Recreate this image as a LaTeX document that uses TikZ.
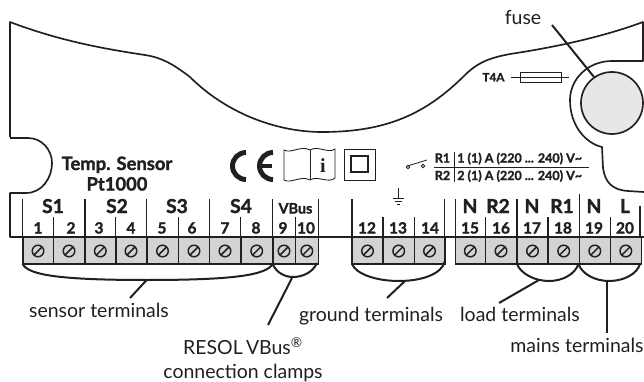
\documentclass[tikz,border=0pt]{standalone}
\usepackage{fontspec}
\setmainfont{Lato}[BoldFeatures={FakeBold=1.6}]
\newfontfamily\serifbold{Liberation Serif}[BoldFont={Liberation Serif Bold}]
\definecolor{cellgray}{HTML}{D1D3D4}
\definecolor{knobgray}{HTML}{E6E7E8}
\definecolor{ink}{HTML}{231F20}
\tikzset{
  outline/.style={draw=ink,line width=1.25pt,line join=round},
  thinline/.style={draw=ink,line width=.55pt},
  divider/.style={draw=ink,line width=1.15pt},
  leader/.style={draw=ink,line width=1.5pt},
  cell/.style={draw=ink,fill=cellgray,line width=1.2pt},
  screw/.style={draw=ink,line width=1.1pt},
  biglabel/.style={font=\fontsize{14.4pt}{16pt}\selectfont\bfseries,text=ink,inner sep=0pt,anchor=base},
  numlabel/.style={font=\fontsize{11.6pt}{13pt}\selectfont\bfseries,text=ink,inner sep=0pt,anchor=base},
  caption/.style={font=\fontsize{14.6pt}{16pt}\selectfont,text=ink,inner sep=0pt,anchor=base},
  smallbold/.style={font=\fontsize{9.4pt}{10pt}\selectfont\bfseries,text=ink,inner sep=0pt,anchor=base},
}
\begin{document}
\begin{tikzpicture}[x=0.75pt,y=-0.75pt]
\useasboundingbox (0,0) rectangle (644,382);
% housing outline
\draw[outline] (10,137) -- (10,22)
  .. controls (60,41) and (105,49) .. (145,55)
  .. controls (165,58) and (178,68) .. (190,77)
  .. controls (225,112) and (275,132) .. (322,132)
  .. controls (385,132) and (425,115) .. (465,75)
  .. controls (480,60) and (495,57) .. (510,54)
  .. controls (550,48) and (600,38) .. (643,22)
  -- (643,61) -- (612,61)
  .. controls (588,61) and (570,79) .. (570,100)
  .. controls (570,125) and (585,143) .. (602,147)
  -- (603,168)
  .. controls (605,182) and (612,190) .. (628,191)
  -- (644,192);
\draw[outline] (10,138) -- (28,138)
  .. controls (42,138) and (52,150) .. (52,163)
  .. controls (52,178) and (42,193) .. (26,193)
  -- (10,193) -- (10,237) -- (644,237);
\draw[outline,fill=knobgray] (612,103) circle[radius=31];
\node[caption] (fuselabel) at (523,25) {fuse};
\coordinate (fusestart) at (552,25);
\coordinate (fuseend) at (594,77);
\draw[leader] (fusestart) -- (fuseend);
% fuse symbol
\node[smallbold,font=\fontsize{8.8pt}{10pt}\selectfont\bfseries] (tfour) at (493.5,81.5) {T4A};
\node[thinline,draw,minimum width=30.8pt,minimum height=8pt,inner sep=0pt] (fusebox) at (540.5,77.5) {};
\coordinate (fuseL) at (511,77.5);
\coordinate (fuseR) at (569,77.5);
\draw[thinline] (fuseL) -- (fuseR);
% text
\node[font=\fontsize{13.8pt}{15pt}\selectfont\bfseries,text=ink,inner sep=0pt,anchor=base] (temp) at (117,170) {Temp. Sensor};
\node[font=\fontsize{13.8pt}{15pt}\selectfont\bfseries,text=ink,inner sep=0pt,anchor=base] (pt) at (117,190.5) {Pt1000};
% CE mark
\draw[ink,line width=3.7pt] (246,152.5) arc[start angle=270,end angle=90,radius=13.5];
\draw[ink,line width=3.7pt] (273,152.5) arc[start angle=270,end angle=90,radius=13.5];
\draw[ink,line width=2.8pt] (259,166) -- (271.5,166);
% book
\draw[thinline,line width=.65pt]
  (284,150) .. controls (291,154) and (301,145) .. (310,150)
  .. controls (318,145) and (328,154) .. (335,149)
  -- (335,178)
  .. controls (328,184) and (318,175) .. (310,180)
  .. controls (301,175) and (291,184) .. (284,180) -- cycle;
\draw[thinline,line width=.65pt] (310,150) -- (310,180);
\node[font=\fontsize{15pt}{16pt}\selectfont\serifbold\bfseries,text=ink,inner sep=0pt,anchor=base] (info) at (323,172) {i};
% class II
\draw[thinline,line width=.75pt] (344,149) rectangle (375,180);
\draw[ink,line width=1.05pt] (351,156) rectangle (368,172);
% switch symbol
\draw[thinline,line width=.6pt] (408,167) circle[radius=1.7];
\draw[thinline,line width=.6pt] (423,166) circle[radius=1.7];
\draw[thinline,line width=.6pt] (409,165.5) -- (427,160);
% rating table
\node[smallbold] (rone) at (442.5,162.5) {R1};
\node[smallbold] (rtwo) at (442.5,180) {R2};
\node[smallbold,anchor=base west] (rateA) at (457,162.5) {1 (1) A (220 ... 240) V\char"007E};
\node[smallbold,anchor=base west] (rateB) at (457,180) {2 (1) A (220 ... 240) V\char"007E};
\draw[thinline,line width=.6pt] (454,152) -- (454,182);
\draw[thinline,line width=.6pt] (434,167) -- (589,167);
% ground symbol
\draw[thinline,line width=.6pt] (398,188) -- (398,198);
\draw[thinline,line width=.6pt] (392.5,198) -- (404,198);
\draw[thinline,line width=.6pt] (394.5,201.5) -- (402,201.5);
\draw[thinline,line width=.6pt] (396.5,204.5) -- (400,204.5);
% terminal cells
\foreach \n/\a/\b in {1/22.7/53.3,2/53.3/85,3/85/115.7,4/115.7/146.7,5/146.7/178.3,6/178.3/209.3,7/209.3/240.7,8/240.7/272.7,9/272.7/295.3,10/295.3/318.3,
  12/352/383,13/383/414.3,14/414.3/444.7,
  15/455.3/485.3,16/485.3/517,17/517/548,18/548/579.3,19/579.3/610.3,20/610.3/641.3}{
  \draw[cell] (\a,237) rectangle (\b,264);
}
% screws
\foreach \x in {38,69,100.3,131,162.5,194,225,256.7,284,306.8,367.5,398.7,429.5,470.3,501,532.5,563.7,594.8,625.8}{
  \draw[screw] (\x,251) circle[radius=5.8];
  \draw[screw] (\x-4.2,255.2) -- (\x+4.2,246.8);
}
% dividers
\foreach \x in {22.7,85,146.7,209.3,272.7,318.3,352,444.7,455.3,517}{
  \draw[divider] (\x,199) -- (\x,237);
}
\draw[divider] (579.3,194) -- (579.3,237);
\draw[divider] (640,206) -- (640,237);
\foreach \x in {53.3,115.7,178.3,240.7,295.3,383,414.3,485.3,548,610.3}{
  \draw[divider] (\x,217) -- (\x,237);
}
% group labels
\foreach \t/\x in {S1/53,S2/117,S3/177,S4/241,N/470,R2/498,N/532,R1/562,N/594,L/625}{
  \node[biglabel] at (\x,213) {\t};
}
\node[font=\fontsize{10.8pt}{12pt}\selectfont\bfseries,text=ink,inner sep=0pt,anchor=base] (vbus) at (295.5,213.5) {VBus};
\foreach \t/\x in {1/38,2/71,3/99,4/131,5/162,6/192,7/225,8/256,9/283,10/306,12/367,13/398,14/430,15/470,16/501,17/532,18/563,19/594,20/625}{
  \node[numlabel] at (\x,233.5) {\t};
}
% braces
\draw[leader] (22.7,264) .. controls (28,275) and (60,280) .. (146.7,280)
  .. controls (235,280) and (266,275) .. (272.7,264);
\draw[leader] (272.7,264) .. controls (276,272) and (284,277) .. (293,277)
  .. controls (303,277) and (313,272) .. (317,263);
\draw[leader] (352,264) .. controls (356,274) and (376,281) .. (399,281)
  .. controls (422,281) and (442,274) .. (445,261);
\draw[leader] (517,264) .. controls (521,274) and (535,281) .. (549,281)
  .. controls (563,281) and (575,274) .. (578.5,264);
\draw[leader] (578.5,264) .. controls (582,274) and (595,281) .. (609,281)
  .. controls (624,281) and (637,274) .. (640,264);
% captions and leaders
\node[caption] (sensor) at (99,317) {sensor terminals};
\coordinate (sensorA) at (146.7,280); \coordinate (sensorB) at (130,298);
\draw[leader] (sensorA) -- (sensorB);
\node[caption] (vbuscap) at (243,354) {RESOL\,VBus\textsuperscript{®}};
\node[caption] (clamps) at (243,378) {connection clamps};
\coordinate (vbusA) at (292,278); \coordinate (vbusB) at (268,325);
\draw[leader] (vbusA) -- (vbusB);
\node[caption] (ground) at (371,321) {ground terminals};
\coordinate (groundA) at (405,281); \coordinate (groundB) at (387,298);
\draw[leader] (groundA) -- (groundB);
\node[caption] (load) at (520,321) {load terminals};
\coordinate (loadA) at (539,280); \coordinate (loadB) at (499,303);
\draw[leader] (loadA) -- (loadB);
\node[caption] (mains) at (577,352.5) {mains terminals};
\coordinate (mainsA) at (607,281); \coordinate (mainsB) at (607,333);
\draw[leader] (mainsA) -- (mainsB);
\end{tikzpicture}
\end{document}
